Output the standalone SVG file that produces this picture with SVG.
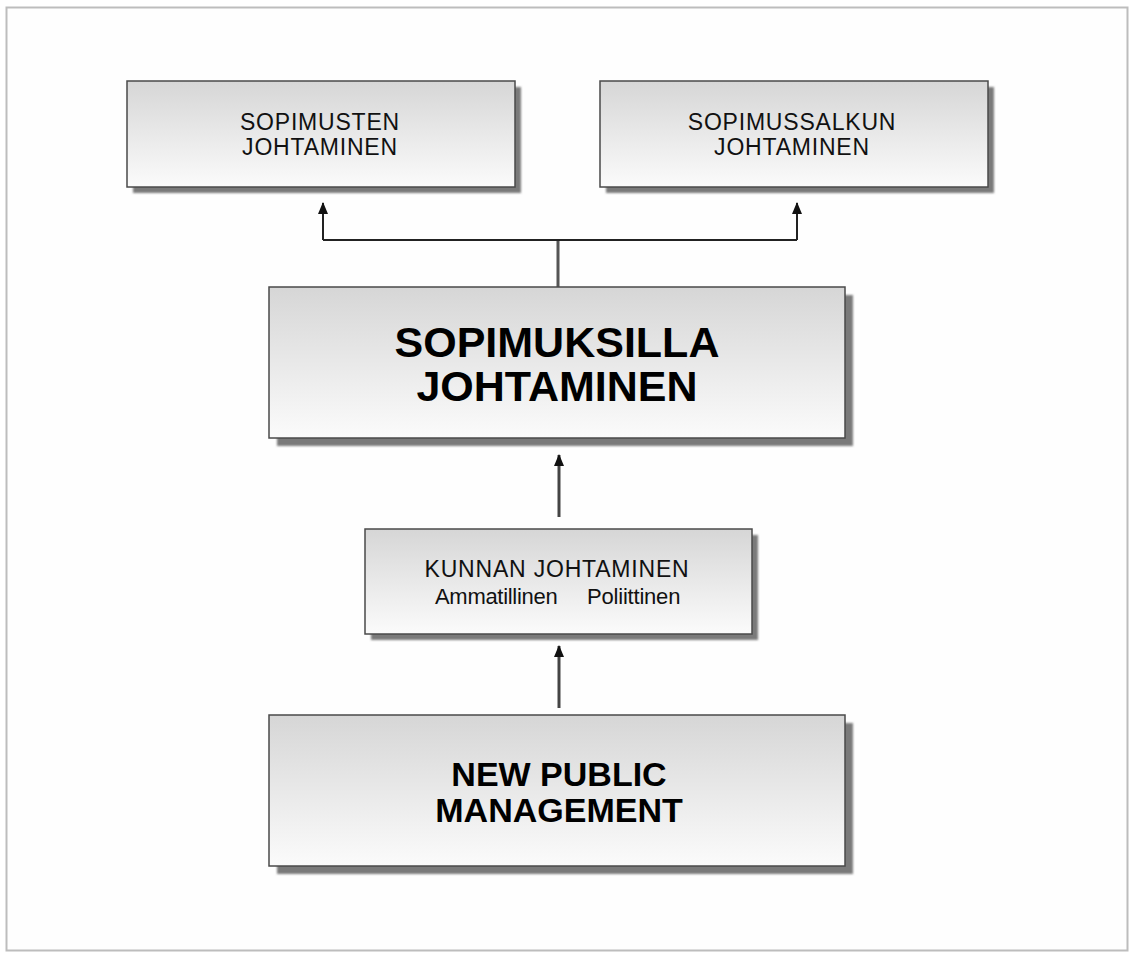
<svg xmlns="http://www.w3.org/2000/svg" width="1131" height="953" viewBox="0 0 1131 953">
  <defs>
    <linearGradient id="boxFill" x1="0" y1="0" x2="0" y2="1">
      <stop offset="0" stop-color="#d6d6d6"/>
      <stop offset="1" stop-color="#fbfbfb"/>
    </linearGradient>
    <filter id="soft" x="-5%" y="-5%" width="110%" height="110%">
      <feGaussianBlur stdDeviation="1"/>
    </filter>
    <marker id="arrow" viewBox="0 0 12 10" refX="11" refY="5" markerWidth="12" markerHeight="10" markerUnits="userSpaceOnUse" orient="auto">
      <path d="M0,0 L12,5 L0,10 Z" fill="#111"/>
    </marker>
    <style>
      .box { fill: url(#boxFill); stroke: #4a4a4a; stroke-width: 1.5; }
      .shadow { fill: #7a7a7a; filter: url(#soft); }
      .small { font-family: "Liberation Sans", Arial, sans-serif; font-size: 23px; fill: #111; text-anchor: middle; letter-spacing: 0.8px; }
      .sub { font-family: "Liberation Sans", Arial, sans-serif; font-size: 22px; fill: #111; }
      .big { font-family: "Liberation Sans", Arial, sans-serif; font-weight: bold; fill: #000; text-anchor: middle; }
      .conn { stroke: #222; stroke-width: 2; fill: none; }
      .feed { stroke: #444; stroke-width: 3; fill: none; }
    </style>
  </defs>

  <!-- page frame -->
  <rect x="0" y="0" width="1131" height="953" fill="#ffffff"/>
  <rect x="6.5" y="7.5" width="1121" height="943" fill="#fefefe" stroke="#bdbdbd" stroke-width="2"/>

  <!-- connectors -->
  <g id="connectors">
    <line x1="558" y1="287" x2="558" y2="240" stroke="#555" stroke-width="3"/>
    <path class="conn" d="M323,240 H797"/>
    <line class="conn" x1="323" y1="240" x2="323" y2="203" marker-end="url(#arrow)"/>
    <line class="conn" x1="797" y1="240" x2="797" y2="203" marker-end="url(#arrow)"/>
    <line class="feed" x1="559" y1="517" x2="559" y2="455" marker-end="url(#arrow)"/>
    <line class="feed" x1="559" y1="708" x2="559" y2="646" marker-end="url(#arrow)"/>
  </g>

  <!-- contract management -->
  <g id="sopimusten">
    <rect class="shadow" x="133" y="87" width="388" height="106"/>
    <rect class="box" x="127" y="81" width="388" height="106"/>
    <text class="small" x="320" y="130">SOPIMUSTEN</text>
    <text class="small" x="320" y="155">JOHTAMINEN</text>
  </g>

  <!-- contract portfolio management -->
  <g id="sopimussalkun">
    <rect class="shadow" x="606" y="87" width="388" height="106"/>
    <rect class="box" x="600" y="81" width="388" height="106"/>
    <text class="small" x="792" y="130">SOPIMUSSALKUN</text>
    <text class="small" x="792" y="155">JOHTAMINEN</text>
  </g>

  <!-- management by contracts -->
  <g id="sopimuksilla">
    <rect class="shadow" x="277" y="295" width="576" height="151"/>
    <rect class="box" x="269" y="287" width="576" height="151"/>
    <text class="big" x="557" y="357" font-size="43">SOPIMUKSILLA</text>
    <text class="big" x="557" y="401" font-size="43">JOHTAMINEN</text>
  </g>

  <!-- municipal management -->
  <g id="kunnan">
    <rect class="shadow" x="371" y="535" width="387" height="105"/>
    <rect class="box" x="365" y="529" width="387" height="105"/>
    <text class="small" x="557" y="577">KUNNAN JOHTAMINEN</text>
    <text class="sub" x="435" y="604" letter-spacing="-0.3">Ammatillinen</text>
    <text class="sub" x="587" y="604" letter-spacing="-0.2">Poliittinen</text>
  </g>

  <!-- new public management -->
  <g id="npm">
    <rect class="shadow" x="277" y="723" width="576" height="151"/>
    <rect class="box" x="269" y="715" width="576" height="151"/>
    <text class="big" x="559" y="786" font-size="34">NEW PUBLIC</text>
    <text class="big" x="559" y="822" font-size="34">MANAGEMENT</text>
  </g>
</svg>
